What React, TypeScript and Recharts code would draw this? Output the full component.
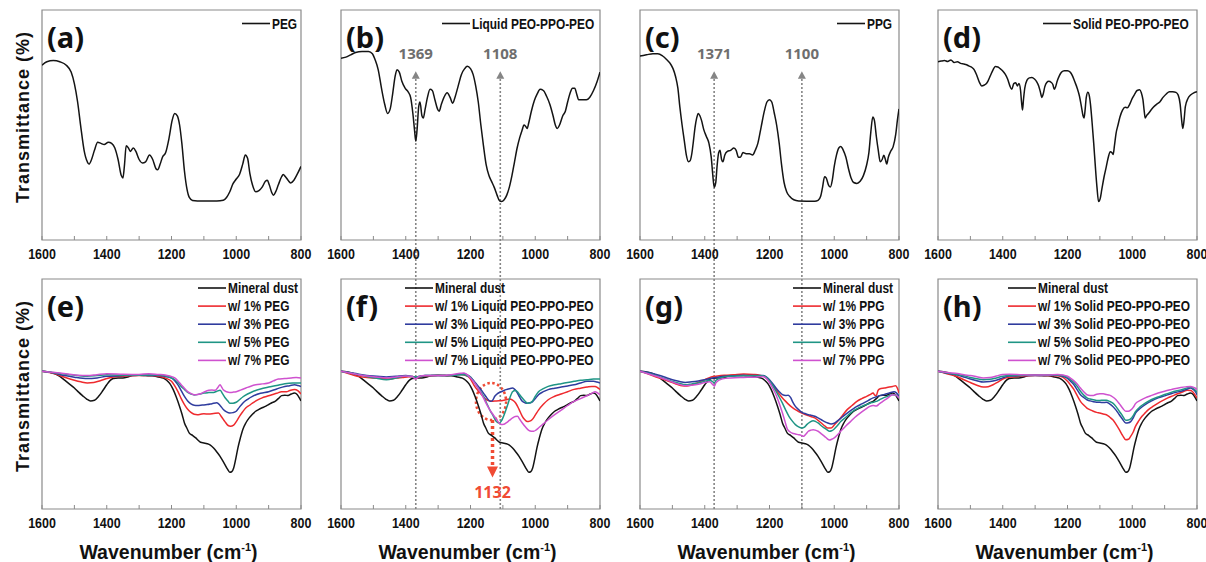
import React from 'react';
import { LineChart, Line, XAxis, YAxis, ReferenceArea, ReferenceLine, ReferenceDot } from 'recharts';

type Pt = [number, number];

// x: wavenumber (cm-1), y: transmittance (arb., 0 = frame bottom, 100 = frame top)
const WN_TICKS = [1600, 1500, 1400, 1300, 1200, 1100, 1000, 900, 800];

const PEG: Pt[] = [[1600,76],[1585,77.5],[1565,78],[1545,77.5],[1525,76],[1510,73],[1500,68],[1490,60],[1480,49],[1470,39],[1460,34],[1455,33],[1447,35],[1438,39],[1428,42.5],[1418,42],[1408,41.5],[1395,42.5],[1385,42],[1375,40],[1365,35],[1355,28],[1350,27],[1345,33],[1340,41],[1333,40],[1327,38.5],[1318,40],[1310,38.5],[1300,35],[1290,33.5],[1280,34],[1268,37],[1258,35],[1248,31],[1243,30.5],[1235,33],[1228,36],[1218,38],[1208,44],[1198,52],[1190,55],[1182,54],[1175,50],[1168,42],[1160,30],[1152,22],[1145,18.5],[1135,17.2],[1120,17],[1060,17],[1040,17.3],[1030,18.5],[1020,21],[1010,24.5],[1000,26.5],[990,28.5],[980,33],[972,37],[965,35.5],[958,29],[950,24],[940,21],[930,21.5],[920,23],[910,25.5],[904,26],[898,24],[890,20.5],[885,19.5],[878,21],[870,24],[860,27.5],[855,28.5],[848,27.5],[840,26],[832,24.8],[822,26],[812,28.5],[800,32]];

const LIQUID: Pt[] = [[1600,79],[1585,79.5],[1570,80.5],[1555,81.5],[1535,82],[1515,82],[1503,81],[1495,78.5],[1485,74],[1475,66],[1465,59],[1456,55],[1448,57],[1440,64],[1433,71],[1427,74],[1420,73],[1412,69],[1402,66],[1393,64.5],[1385,62],[1378,55],[1373,48],[1369,43],[1365,48],[1360,58],[1356,60],[1350,54],[1346,53],[1340,57],[1333,62],[1325,65.5],[1318,65],[1310,61],[1302,57],[1297,56],[1290,59],[1282,62],[1272,64],[1263,62],[1255,59.5],[1248,62],[1238,67],[1228,72],[1218,74.5],[1210,75.5],[1200,74.5],[1192,72],[1184,67],[1176,60],[1168,50],[1160,41],[1152,33],[1143,28],[1135,25.5],[1127,23],[1118,19.5],[1110,17],[1104,16.7],[1096,17.5],[1088,19.5],[1080,23],[1072,28],[1064,34],[1056,40],[1048,44.5],[1040,48],[1035,50],[1030,49.5],[1025,48.5],[1020,51],[1012,56],[1003,60.5],[994,63.5],[985,65.5],[975,65],[965,62.5],[955,59],[945,54],[938,50],[932,48.5],[925,50],[915,54],[907,56],[900,60],[892,64],[885,66],[878,66],[872,63.5],[866,61],[855,61],[842,61],[832,62],[820,65],[810,68.5],[800,73]];

const PPG: Pt[] = [[1600,80],[1580,80.5],[1560,81],[1545,81],[1530,80],[1518,78.5],[1508,77],[1498,74.5],[1490,71],[1483,66],[1477,58],[1470,50],[1463,43],[1457,37],[1450,34],[1445,34.5],[1440,37.5],[1435,43],[1430,49],[1425,53],[1420,55],[1415,54],[1410,52],[1403,48],[1395,45],[1387,42],[1380,36],[1375,28],[1371,23],[1366,25],[1362,32],[1357,38],[1353,39],[1348,35],[1344,34],[1338,37],[1330,38.5],[1320,39],[1310,40],[1303,39],[1296,36],[1290,36],[1282,38],[1272,37.5],[1262,37.5],[1252,37],[1244,39],[1236,42],[1226,49],[1216,56],[1208,60],[1200,61],[1193,60],[1185,55],[1178,50],[1170,42],[1163,33],[1155,25],[1147,21],[1138,19],[1125,17.5],[1110,17],[1060,16.8],[1050,17.2],[1042,19],[1036,23],[1030,27.5],[1025,27],[1018,24],[1012,23],[1006,26],[1000,32],[993,37],[986,40],[980,40.6],[972,39],[964,36],[956,31],[948,27],[940,25],[930,24.6],[920,25.5],[910,28],[900,32.6],[893,38],[887,47],[881,53.5],[876,52],[870,45],[864,39],[858,34],[852,35],[847,36.8],[842,35],[838,33],[833,36],[826,38.5],[818,40.6],[810,46],[805,52],[800,57]];

const SOLID: Pt[] = [[1600,77.5],[1590,77.8],[1580,78],[1570,77.6],[1560,78.3],[1550,77.2],[1540,77.5],[1530,76.8],[1520,76.5],[1512,76.2],[1505,75.7],[1495,75],[1488,74],[1480,71.5],[1472,68.5],[1465,67],[1458,67.3],[1452,67.8],[1446,69],[1438,71.5],[1430,74],[1423,75.4],[1415,75.2],[1408,74.5],[1400,73.5],[1392,72],[1385,70],[1378,67],[1372,65.5],[1366,68],[1360,68.4],[1355,67],[1350,68],[1345,65],[1342,60],[1339,56.5],[1336,61],[1332,66],[1325,69.5],[1318,70.5],[1310,70.7],[1302,70],[1295,68.8],[1289,67],[1284,64.5],[1279,62],[1275,63.5],[1270,66.7],[1264,68.5],[1258,69],[1250,68.5],[1245,67.5],[1241,65.5],[1237,66.5],[1232,69],[1225,71.5],[1218,73],[1210,73.6],[1200,73.6],[1192,73],[1185,71.5],[1178,69],[1170,66],[1163,62.5],[1157,58],[1152,54],[1149,53],[1146,56],[1142,62],[1137,64.2],[1133,63],[1129,59],[1124,51],[1119,42],[1114,32],[1109,23],[1104,16.7],[1099,18],[1094,22],[1087,27.5],[1080,32],[1074,36],[1068,38.4],[1063,38],[1059,37.2],[1055,41],[1050,46.4],[1044,50],[1038,53.5],[1030,56.5],[1022,57.7],[1015,57.5],[1008,59],[1000,61.6],[992,63.5],[985,65],[977,65.3],[972,64],[967,61],[963,56],[960,53],[956,54],[950,55],[942,56.5],[935,57.7],[925,59],[915,60],[905,62],[895,63.5],[885,64.5],[875,64.5],[865,64.2],[858,63],[852,59],[848,53],[844,48.5],[840,52],[836,58],[828,61.5],[820,63],[810,64],[800,64.5]];

const MINERAL: Pt[] = [[1600,59.9],[1580,59.6],[1560,58.8],[1545,57.7],[1530,56],[1515,54.3],[1500,52.6],[1487,50.8],[1475,49.3],[1462,47.8],[1450,47],[1438,47.3],[1425,49],[1412,51.5],[1400,54],[1390,55.8],[1380,56.7],[1365,57],[1350,57],[1335,57.4],[1320,58],[1300,58.1],[1280,58],[1260,57.9],[1240,57.4],[1225,56.9],[1215,56],[1205,54.5],[1195,52],[1185,48.6],[1175,44.6],[1167,41],[1160,37.4],[1152,35],[1145,33],[1135,32],[1125,30.9],[1117,29.8],[1110,29],[1100,28.7],[1090,28.4],[1080,27.8],[1070,26.5],[1060,24.8],[1050,22.9],[1042,21],[1035,19.3],[1027,17.3],[1020,16],[1014,16.2],[1008,17.8],[1002,21.5],[995,26.5],[988,30.5],[980,34.5],[970,37.5],[960,39.6],[950,41.2],[940,42.5],[930,43.3],[920,44],[910,44.6],[900,45.4],[890,46.2],[880,46.8],[870,48],[860,49.3],[850,49.5],[840,49.3],[830,50],[820,50.4],[812,49.8],[805,48.3],[800,47]];

const PEG_1: Pt[] = [[1600,59.9],[1560,58.8],[1530,57.3],[1500,56],[1480,55.3],[1460,54.8],[1440,55],[1420,55.8],[1400,56.7],[1380,57.4],[1340,57.8],[1300,58],[1260,58],[1240,57.7],[1220,57],[1200,55.5],[1190,53.5],[1180,51],[1170,48],[1160,45.4],[1150,43.4],[1140,42],[1130,41.2],[1120,41],[1110,41.2],[1100,41.4],[1085,41.3],[1070,41.5],[1055,41.7],[1045,40],[1035,38],[1025,36.3],[1018,36],[1008,36.5],[1000,38],[990,40.3],[980,42.3],[970,44],[960,45],[950,46],[935,47.3],[920,48.3],[905,49],[890,49.7],[875,50.3],[860,51],[845,51],[835,51.5],[820,52],[810,51.5],[800,50]];
const PEG_3: Pt[] = [[1600,59.9],[1560,59],[1530,58],[1500,57.3],[1460,56.7],[1430,57],[1400,57.7],[1350,58],[1300,58.1],[1240,58],[1215,57.5],[1200,57],[1190,55.8],[1180,54],[1170,51.5],[1160,49],[1150,47],[1140,45.7],[1130,45.1],[1120,45],[1105,45.2],[1090,45.4],[1075,45.8],[1060,46.2],[1050,45],[1040,43.3],[1030,42.2],[1020,41.7],[1010,41.9],[1000,42.5],[990,44.3],[980,46],[965,47.7],[950,49],[925,50.3],[900,51],[875,52.2],[850,53.3],[835,53.6],[820,54],[810,53.7],[800,53.3]];
const PEG_5: Pt[] = [[1600,59.9],[1560,59.2],[1520,58.5],[1490,58],[1460,57.7],[1430,58],[1400,58.4],[1350,58.2],[1300,58.2],[1240,58.3],[1220,57.9],[1205,57.3],[1190,56.2],[1180,55],[1170,53.3],[1160,52],[1150,50.7],[1140,50],[1130,49.6],[1115,49.9],[1100,50.4],[1085,50.6],[1070,50.7],[1060,51.2],[1050,51.6],[1043,50.3],[1035,48.5],[1025,46.8],[1020,46],[1010,46],[1000,46.4],[990,47.5],[980,48.7],[965,50],[950,51],[925,52.2],[900,53],[875,53.7],[850,54.5],[825,54.8],[800,54.8]];
const PEG_7: Pt[] = [[1600,59.9],[1560,59.3],[1520,58.7],[1490,58.2],[1460,58],[1430,58.4],[1400,58.8],[1350,58.6],[1300,58.5],[1270,58.8],[1240,58.5],[1220,58.3],[1205,57.8],[1190,57],[1180,55.7],[1170,54],[1160,52.5],[1150,51],[1140,50.2],[1130,49.7],[1120,49.8],[1110,50.1],[1100,50.8],[1085,51.6],[1075,51.7],[1065,51.6],[1057,52.8],[1050,54],[1045,53],[1040,51.8],[1030,51],[1020,50.7],[1010,50.8],[1000,51],[985,51.8],[970,52.6],[955,53.4],[940,54],[920,54.4],[900,54.8],[885,55.7],[870,56.5],[850,56.7],[830,57],[815,57.2],[800,57]];

const LIQ_1: Pt[] = [[1600,59.9],[1570,58.6],[1550,57.7],[1520,57.2],[1500,57],[1470,56.8],[1450,56.5],[1430,56.9],[1410,57.2],[1390,57.5],[1378,57.6],[1370,56.6],[1362,57.4],[1340,57.8],[1300,58],[1260,58.2],[1230,58.5],[1210,57.8],[1200,56.5],[1190,54],[1180,52],[1170,50.4],[1160,48.7],[1150,47.5],[1140,47],[1135,46.8],[1120,47],[1100,47.2],[1090,47.5],[1080,47.8],[1070,47.3],[1060,46],[1050,43.3],[1040,40.3],[1032,38.8],[1025,38],[1017,38.2],[1010,38.8],[1000,40.8],[990,43],[975,45.5],[960,47.5],[940,49],[920,50],[900,51],[880,52],[860,52.5],[840,53],[825,53.3],[815,53.3],[808,52.8],[800,52]];
const LIQ_3: Pt[] = [[1600,59.9],[1560,59],[1520,58],[1490,57.7],[1460,57.4],[1430,57.7],[1400,58],[1370,57.4],[1340,58],[1300,58],[1250,58.3],[1220,58.8],[1210,58.3],[1200,57.4],[1190,55.8],[1180,54],[1170,52.3],[1160,50.4],[1152,48.8],[1145,47.5],[1138,46.8],[1132,47.2],[1125,49],[1118,50],[1110,50.7],[1100,51.3],[1090,51.9],[1080,52.3],[1070,52.6],[1062,51.8],[1055,50.4],[1048,48.6],[1040,46.8],[1032,46.2],[1025,46],[1015,46.2],[1008,46.7],[1000,48],[990,49.7],[975,51],[960,51.9],[940,52.5],[920,53],[900,53.5],[880,54],[860,54.8],[840,55.5],[820,55.5],[810,55.2],[800,54.8]];
const LIQ_5: Pt[] = [[1600,59.9],[1560,58.8],[1520,57.6],[1490,56.8],[1460,56.2],[1430,57],[1400,57.8],[1370,57.5],[1340,58],[1300,58],[1250,58.2],[1220,58.4],[1210,57.8],[1200,57.3],[1190,55.5],[1180,53.3],[1170,51.3],[1160,49],[1150,46],[1140,43],[1130,40.5],[1120,38],[1112,37.4],[1105,38.2],[1100,39.6],[1092,42.5],[1085,45.4],[1078,48.5],[1070,51],[1062,51.5],[1055,51],[1048,49.7],[1040,48.3],[1032,47],[1025,46],[1015,46.2],[1008,47],[1000,49],[990,51],[975,52.3],[960,53.3],[940,54],[920,54.5],[900,55],[880,55.5],[860,56],[840,56.2],[820,56.5],[800,56.5]];
const LIQ_7: Pt[] = [[1600,59.9],[1560,58.8],[1520,57.8],[1490,57.4],[1460,57],[1430,57.4],[1400,57.8],[1380,57.6],[1370,56.5],[1360,57.5],[1340,58],[1300,58],[1260,58.4],[1230,59],[1220,59.1],[1210,58.3],[1200,57],[1190,55.3],[1180,53.3],[1170,51],[1160,48.3],[1150,45.5],[1140,43],[1130,41],[1120,39],[1112,37.5],[1105,36.7],[1097,36.8],[1090,37.4],[1080,38.5],[1070,39.6],[1062,40.2],[1055,40.3],[1048,39],[1040,37.4],[1030,35.6],[1020,34.2],[1012,33.8],[1005,33.8],[997,34.4],[990,35.2],[975,37],[960,38.8],[940,41],[920,43],[900,45],[880,46.8],[860,48],[840,49.3],[825,50.3],[815,51],[808,50.5],[800,49.7]];

const PPG_1: Pt[] = [[1600,59.9],[1570,58.5],[1550,57.4],[1520,56],[1500,55],[1485,54.2],[1470,53.6],[1455,53.5],[1440,54],[1420,55],[1400,56.2],[1380,57.4],[1360,57.8],[1340,58.1],[1310,58.4],[1280,58.7],[1250,58.5],[1230,58.2],[1220,57.8],[1210,57],[1200,55.5],[1190,53.8],[1180,51.9],[1170,50],[1160,48.3],[1150,46.8],[1140,45.4],[1130,44.2],[1120,43.2],[1110,42.4],[1100,41.7],[1090,41.1],[1080,40.6],[1070,40.1],[1060,39.6],[1050,38.5],[1040,37.4],[1030,36.2],[1020,35.2],[1010,35.2],[1000,36.5],[990,38],[975,40.6],[960,43.2],[945,45],[930,46.8],[915,48],[900,49],[890,49.7],[880,50.4],[875,49.5],[870,49.3],[865,51.5],[860,52.2],[845,52.6],[830,53],[820,53.3],[810,53.6],[805,52.5],[800,50.4]];
const PPG_3: Pt[] = [[1600,59.9],[1570,59.2],[1550,58.5],[1520,57.2],[1500,56.2],[1480,55.5],[1460,55],[1440,55.3],[1420,55.7],[1400,56.2],[1380,56.8],[1360,57.3],[1340,57.7],[1300,58],[1280,58.1],[1250,58],[1220,58],[1210,57.4],[1200,56.2],[1190,54.5],[1180,52.6],[1170,51],[1160,49.7],[1150,49.3],[1142,49.5],[1135,48.5],[1128,46.5],[1120,44.6],[1110,43.2],[1100,42],[1090,41.5],[1080,41],[1070,40.7],[1060,40.3],[1050,39.6],[1040,38.8],[1030,38],[1020,37.4],[1010,37],[1000,37.3],[990,38.3],[975,40],[960,41.7],[945,43.2],[930,44.6],[915,45.7],[900,46.8],[890,47.6],[880,48.3],[870,48.8],[860,49.3],[845,49.8],[830,50.4],[815,51],[808,50.5],[800,49]];
const PPG_5: Pt[] = [[1600,59.9],[1570,58.8],[1550,58],[1520,56.5],[1500,55.5],[1480,54.7],[1460,54],[1440,54.4],[1420,54.8],[1400,55.5],[1385,56],[1375,55.3],[1370,54.8],[1365,56],[1345,57.3],[1320,57.7],[1280,57.9],[1250,57.9],[1220,57.9],[1210,57.3],[1200,55.8],[1190,53.7],[1180,51.2],[1170,48.7],[1160,46],[1150,43],[1140,40.3],[1130,38.3],[1120,36.7],[1110,35.7],[1100,35.2],[1092,35.6],[1085,36.7],[1075,37.8],[1065,38.4],[1057,38],[1050,37.4],[1040,36.2],[1030,35.2],[1022,34.4],[1015,33.8],[1008,34],[1000,34.8],[990,36.3],[980,38],[965,39.8],[950,41.7],[935,43.2],[920,44.3],[905,45.2],[890,46],[880,46.4],[870,46.8],[860,47.5],[850,48.2],[835,49],[820,49.7],[810,49.6],[800,48.3]];
const PPG_7: Pt[] = [[1600,59.9],[1570,58.6],[1550,57.7],[1520,56.3],[1500,55.2],[1480,54.2],[1460,53.6],[1440,53.8],[1420,54.2],[1400,55],[1385,55.3],[1375,54],[1370,53.4],[1365,55],[1345,56.6],[1320,57],[1280,57.2],[1250,57.3],[1220,57.6],[1210,56.8],[1200,55],[1190,52.5],[1180,49.7],[1170,46],[1160,41.7],[1152,38],[1145,34.8],[1137,33.6],[1130,33],[1120,32.6],[1110,32.3],[1102,32],[1095,31.6],[1088,32.5],[1080,33.8],[1072,34.3],[1065,34.5],[1057,34.2],[1050,33.8],[1040,32.7],[1030,31.6],[1022,30.6],[1015,30],[1008,30.3],[1000,30.9],[990,32.3],[980,33.8],[965,36],[950,38],[935,40],[920,41.7],[905,43.2],[890,44.6],[880,45],[870,44.8],[860,45.8],[850,46.8],[835,48.2],[820,49.7],[810,49.5],[800,48.3]];

const SOL_1: Pt[] = [[1600,59.9],[1570,58.7],[1540,57.5],[1520,56.2],[1500,55],[1480,53.8],[1460,53],[1445,53.2],[1430,54],[1415,55.2],[1400,56.5],[1385,57.2],[1370,57.4],[1340,57.8],[1300,58],[1260,58],[1230,57.9],[1215,57.3],[1200,55.5],[1190,53.8],[1180,51.9],[1170,49.3],[1160,46.8],[1150,45.2],[1140,43.9],[1130,43.1],[1120,42.5],[1110,42],[1100,41.7],[1090,41.3],[1080,41],[1070,40],[1060,38.8],[1050,36.8],[1040,34.5],[1030,32],[1020,30.1],[1012,30.3],[1005,31.6],[997,33.5],[990,35.9],[980,38.3],[970,40.3],[960,41.8],[950,43.2],[935,44.7],[920,46],[905,47.2],[890,48.3],[875,49.2],[860,50.1],[845,50.9],[830,51.6],[820,51.5],[815,51.2],[808,50],[800,48.3]];
const SOL_3: Pt[] = [[1600,59.9],[1570,59],[1540,58.2],[1520,57.4],[1500,56.5],[1480,55.8],[1460,55.2],[1440,55.4],[1420,56],[1400,57],[1380,57.8],[1340,58],[1300,58],[1260,58.1],[1230,58.1],[1215,57.7],[1200,56.8],[1190,55.5],[1180,54],[1170,51.8],[1160,49.7],[1150,48.5],[1140,47.5],[1130,47],[1120,46.6],[1110,46.4],[1100,46.4],[1090,46.3],[1080,46.4],[1070,45.7],[1060,44.6],[1050,43],[1040,41],[1030,39],[1020,37.4],[1012,37.5],[1005,38],[997,39.6],[990,41.7],[975,43.8],[960,45.4],[940,47],[920,48.3],[900,49.2],[880,50.1],[865,50.7],[850,51.2],[835,51.9],[820,52.6],[812,52],[805,51],[800,49.7]];
const SOL_5: Pt[] = [[1600,59.9],[1570,59.1],[1540,58.5],[1520,57.9],[1500,57.2],[1480,56.6],[1460,56.2],[1440,56.4],[1420,57],[1400,57.7],[1380,58],[1340,58.1],[1300,58.2],[1260,58.2],[1230,58.3],[1215,58],[1200,57.3],[1190,56.2],[1180,55],[1170,53.3],[1160,51.2],[1150,49.6],[1140,48.3],[1130,47.8],[1120,47.5],[1110,47.2],[1100,47.2],[1090,47.3],[1080,47.3],[1070,46.8],[1060,46],[1050,44.5],[1040,42.5],[1030,40.5],[1020,38.6],[1012,38.7],[1005,39.2],[997,40.6],[990,42.3],[975,44.5],[960,46],[940,47.6],[920,48.7],[900,49.8],[880,50.7],[865,51.3],[850,51.8],[835,52.4],[820,53],[812,52.5],[805,51.6],[800,50.7]];
const SOL_7: Pt[] = [[1600,59.9],[1570,59.3],[1540,58.9],[1520,58.4],[1500,58],[1480,57.5],[1460,57],[1440,57.2],[1420,57.8],[1400,58.5],[1380,58.6],[1340,58.4],[1300,58.3],[1260,58.3],[1230,58.5],[1215,58.3],[1200,57.7],[1190,56.8],[1180,55.7],[1170,54.3],[1160,52.6],[1150,51],[1140,49.7],[1130,49.4],[1120,49.4],[1110,49.9],[1100,50.1],[1090,50.1],[1080,49.8],[1070,49.5],[1060,48.7],[1050,47.5],[1040,45.8],[1030,43.9],[1020,42.5],[1012,42.5],[1005,43],[997,44.2],[990,45.8],[975,47.2],[960,48.3],[940,49.4],[920,50.4],[900,51.2],[880,51.9],[865,52.4],[850,52.8],[835,53.1],[820,53.3],[812,53],[805,52.5],[800,52]];

const PEAKS_B = [1369, 1108];
const PEAKS_C = [1371, 1100];
const SHIFT_F = 1132;

const BLACK = '#141414';
const RED = '#ee2a2e';
const BLUE = '#2f3c9e';
const TEAL = '#1f9585';
const MAGENTA = '#cf52cf';
const GUIDE = '#858585';
const NOTE = '#f04b34';

const PX = 24; // horizontal room for the end tick labels
const PT = 10;
const PLOT_W = 259;
const CH_W = PLOT_W + PX * 2;
const CH_H = 290;
const NARROW = "'Liberation Sans', Arial, sans-serif";

type Series = { name: string; color: string; data: Pt[] };

const rows = (d: Pt[]) => d.map(([x, y]) => ({ x, y }));

const mixSeries = (label: string, d1: Pt[], d3: Pt[], d5: Pt[], d7: Pt[]): Series[] => [
  { name: 'Mineral dust', color: BLACK, data: MINERAL },
  { name: `w/ 1% ${label}`, color: RED, data: d1 },
  { name: `w/ 3% ${label}`, color: BLUE, data: d3 },
  { name: `w/ 5% ${label}`, color: TEAL, data: d5 },
  { name: `w/ 7% ${label}`, color: MAGENTA, data: d7 },
];

const WnTick = (props: any) => {
  const { x, y, payload } = props;
  const v = payload.value;
  return (
    <g>
      <line x1={x} x2={x} y1={y} y2={y - 4} stroke="#8a8a8a" strokeWidth={1} />
      {v % 200 === 0 && (
        <text transform={`translate(${x},${y + 18.5}) scale(0.86,1)`} textAnchor="middle" fontFamily={NARROW} fontWeight={700} fontSize={14.5} fill="#111">
          {v}
        </text>
      )}
    </g>
  );
};

const upHead = (p: any) => (
  <polygon points={`${p.cx},${p.cy - 4} ${p.cx - 4},${p.cy + 3.5} ${p.cx + 4},${p.cy + 3.5}`} fill={GUIDE} />
);
const downHead = (p: any) => (
  <polygon points={`${p.cx},${p.cy + 6} ${p.cx - 5.5},${p.cy - 5} ${p.cx + 5.5},${p.cy - 5}`} fill={NOTE} />
);
const peakText = (label: string, color: string, size: number) => (p: any) => (
  <text x={p.cx} y={p.cy} textAnchor="middle" fontFamily="'Noto Sans', sans-serif" fontWeight={700} fontSize={size} fill={color}>
    {label}
  </text>
);
const dottedEllipse = (p: any) => (
  <ellipse cx={p.x + p.width / 2} cy={p.y + p.height / 2} rx={p.width / 2} ry={p.height / 2} fill="none" stroke={NOTE} strokeWidth={2.6} strokeDasharray="2.5 2.5" />
);

// top-row guide: arrow + label, dotted line running down into the panel below
const topGuides = (peaks: number[]) =>
  peaks.map((p) => (
    <React.Fragment key={p}>
      <ReferenceLine segment={[{ x: p, y: 70 }, { x: p, y: -17 }]} stroke={GUIDE} strokeWidth={1.6} strokeDasharray="2 2" ifOverflow="visible" />
      <ReferenceDot x={p} y={71.6} r={4} shape={upHead} ifOverflow="visible" />
      <ReferenceDot x={p} y={78.7} r={4} shape={peakText(String(p), '#6e6e6e', 15)} ifOverflow="visible" />
    </React.Fragment>
  ));

const bottomGuides = (peaks: number[]) =>
  peaks.map((p) => <ReferenceLine key={p} x={p} stroke={GUIDE} strokeWidth={1.6} strokeDasharray="2 2" />);

type PanelProps = {
  left: number;
  top: number;
  tag: string;
  series: Series[];
  legendX: number;
  legendY: number;
  yTitle?: boolean;
  xTitle?: boolean;
  extras?: React.ReactNode;
};

const Panel = ({ left, top, tag, series, legendX, legendY, yTitle, xTitle, extras }: PanelProps) => (
  <div style={{ position: 'absolute', left: left - PX, top: top - PT, width: CH_W, height: CH_H }}>
    <LineChart width={CH_W} height={CH_H} margin={{ top: PT, right: PX, bottom: 20, left: PX }}>
      <XAxis
        type="number"
        dataKey="x"
        domain={[800, 1600]}
        reversed
        allowDataOverflow
        ticks={WN_TICKS}
        interval={0}
        axisLine={false}
        tickLine={false}
        tickSize={0}
        tickMargin={0}
        height={30}
        tick={<WnTick />}
      />
      <YAxis type="number" domain={[0, 100]} hide allowDataOverflow />
      <ReferenceArea x1={1600} x2={800} y1={0} y2={100} fill="none" stroke="#8a8a8a" strokeWidth={1.2} ifOverflow="visible" />
      {extras}
      {series.map((s) => (
        <Line
          key={s.name}
          name={s.name}
          data={rows(s.data)}
          dataKey="y"
          type="monotone"
          stroke={s.color}
          strokeWidth={1.5}
          dot={false}
          activeDot={false}
          isAnimationActive={false}
        />
      ))}
    </LineChart>
    <svg width={CH_W} height={CH_H} style={{ position: 'absolute', left: 0, top: 0, overflow: 'visible', pointerEvents: 'none' }}>
      <text x={PX + 5} y={PT + 37.5} fontFamily="'Noto Sans', sans-serif" fontWeight={700} fontSize={29} fill="#111">
        {tag}
      </text>
      {series.map((s, i) => {
        const cy = PT + legendY + i * 18.1;
        const tx = PX + legendX;
        return (
          <g key={s.name}>
            <line x1={tx - 30} x2={tx - 2} y1={cy} y2={cy} stroke={s.color} strokeWidth={1.6} />
            <text transform={`translate(${tx},${cy + 5}) scale(0.85,1)`} fontFamily={NARROW} fontWeight={700} fontSize={14} fill="#111">
              {s.name}
            </text>
          </g>
        );
      })}
      {yTitle && (
        <text transform={`translate(${PX - 13},${PT + 107}) rotate(-90)`} textAnchor="middle" fontFamily={NARROW} fontWeight={700} fontSize={18} letterSpacing={1} fill="#111">
          Transmittance (%)
        </text>
      )}
      {xTitle && (
        <text x={PX + PLOT_W / 2 - 3} y={290} textAnchor="middle" fontFamily={NARROW} fontWeight={700} fontSize={19.5} fill="#111">
          Wavenumber (cm<tspan dy={-8} fontSize={11}>-1</tspan>
          <tspan dy={8}>)</tspan>
        </text>
      )}
    </svg>
  </div>
);

const COLS = [42, 341, 640, 938];
const TOP_ROW = 10;
const BOTTOM_ROW = 279;

export default function App() {
  return (
    <div style={{ position: 'absolute', left: 0, top: 0, width: 1206, height: 562, background: '#fff', overflow: 'hidden' }}>
      <Panel left={COLS[0]} top={TOP_ROW} tag="(a)" series={[{ name: 'PEG', color: BLACK, data: PEG }]} legendX={230} legendY={13.5} yTitle />
      <Panel
        left={COLS[1]}
        top={TOP_ROW}
        tag="(b)"
        series={[{ name: 'Liquid PEO-PPO-PEO', color: BLACK, data: LIQUID }]}
        legendX={131}
        legendY={13.5}
        extras={topGuides(PEAKS_B)}
      />
      <Panel
        left={COLS[2]}
        top={TOP_ROW}
        tag="(c)"
        series={[{ name: 'PPG', color: BLACK, data: PPG }]}
        legendX={227}
        legendY={13.5}
        extras={topGuides(PEAKS_C)}
      />
      <Panel left={COLS[3]} top={TOP_ROW} tag="(d)" series={[{ name: 'Solid PEO-PPO-PEO', color: BLACK, data: SOLID }]} legendX={135} legendY={13.5} />

      <Panel left={COLS[0]} top={BOTTOM_ROW} tag="(e)" series={mixSeries('PEG', PEG_1, PEG_3, PEG_5, PEG_7)} legendX={186} legendY={9} yTitle xTitle />
      <Panel
        left={COLS[1]}
        top={BOTTOM_ROW}
        tag="(f)"
        series={mixSeries('Liquid PEO-PPO-PEO', LIQ_1, LIQ_3, LIQ_5, LIQ_7)}
        legendX={94}
        legendY={9}
        xTitle
        extras={
          <>
            {bottomGuides(PEAKS_B)}
            <ReferenceArea x1={1183} x2={1090} y1={38.7} y2={54.8} shape={dottedEllipse} />
            <ReferenceLine segment={[{ x: SHIFT_F, y: 38.7 }, { x: SHIFT_F, y: 18.8 }]} stroke={NOTE} strokeWidth={3.5} strokeDasharray="3 3" />
            <ReferenceDot x={SHIFT_F} y={16.3} r={5} shape={downHead} />
            <ReferenceDot x={SHIFT_F} y={4.8} r={4} shape={peakText(String(SHIFT_F), NOTE, 16)} />
          </>
        }
      />
      <Panel
        left={COLS[2]}
        top={BOTTOM_ROW}
        tag="(g)"
        series={mixSeries('PPG', PPG_1, PPG_3, PPG_5, PPG_7)}
        legendX={183}
        legendY={9}
        xTitle
        extras={bottomGuides(PEAKS_C)}
      />
      <Panel left={COLS[3]} top={BOTTOM_ROW} tag="(h)" series={mixSeries('Solid PEO-PPO-PEO', SOL_1, SOL_3, SOL_5, SOL_7)} legendX={100} legendY={9} xTitle />
    </div>
  );
}
